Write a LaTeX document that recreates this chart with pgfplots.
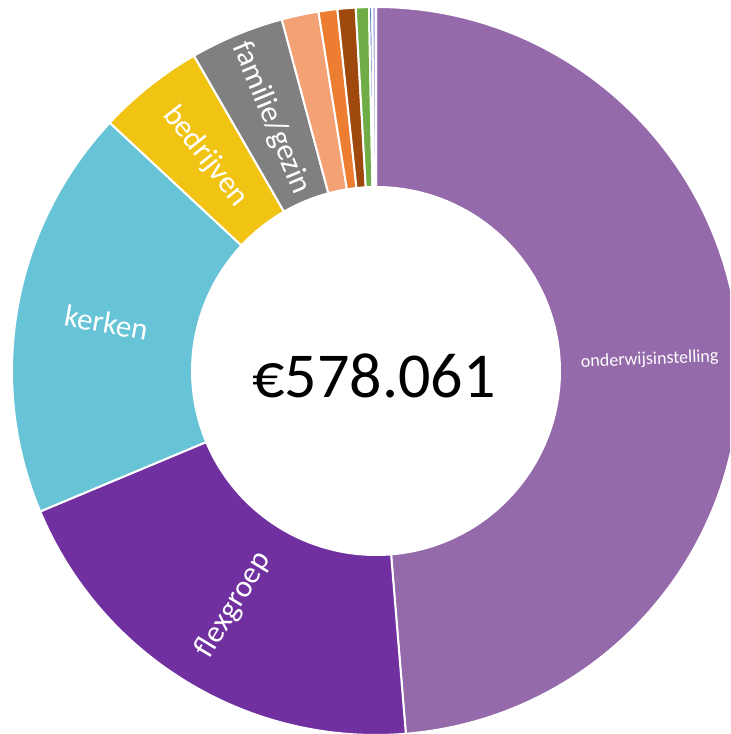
\documentclass[border=0pt]{standalone}
\usepackage{pgfplots}
\pgfplotsset{compat=1.18}
\usepackage{pgfplotstable}
\usetikzlibrary{calc}
\usepackage{fontspec}
\setmainfont{Carlito}

% amounts in thousands of euros, clockwise from 12 o'clock
\pgfplotstableread[col sep=comma]{
name,value,size
onderwijsinstelling,281.484,9
flexgroep,115.612,15.5
kerken,105.496,15.5
bedrijven,27.297,15.5
familie/gezin,24.086,15.5
x5,9.474,0
x6,4.817,0
x7,4.657,0
x8,3.372,0
x9,0.803,0
x10,0.963,0
}\data
\def\total{578.061}

\definecolor{c0}{HTML}{956AAB}
\definecolor{c1}{HTML}{7030A0}
\definecolor{c2}{HTML}{67C3D6}
\definecolor{c3}{HTML}{F1C414}
\definecolor{c4}{HTML}{808080}
\definecolor{c5}{HTML}{F4A175}
\definecolor{c6}{HTML}{ED7D31}
\definecolor{c7}{HTML}{9E480E}
\definecolor{c8}{HTML}{70AD47}
\definecolor{c9}{HTML}{4472C4}
\definecolor{c10}{HTML}{B4B4E6}

\begin{document}
\begin{tikzpicture}
\begin{axis}[
    scale only axis,
    width=365pt, height=367pt,
    xmin=-376, xmax=354,
    ymin=-363, ymax=371,
    hide axis,
    clip=true,
]
\coordinate (sw) at (rel axis cs:0,0);
\coordinate (ne) at (rel axis cs:1,1);
\pgfplotsextra{
  \gdef\cum{0}
  \foreach \i in {0,...,10}{
    \pgfplotstablegetelem{\i}{value}\of\data
    \pgfmathsetmacro\a{90-\cum/\total*360}
    \pgfmathsetmacro\newcum{\cum+\pgfplotsretval}
    \xdef\cum{\newcum}
    \pgfmathsetmacro\b{90-\cum/\total*360}
    \fill[c\i, draw=white, line width=1pt]
      (axis cs:0,0) ++(\a:182pt) arc[start angle=\a, end angle=\b, radius=182pt]
      -- ++({\b+180}:90pt) arc[start angle=\b, end angle=\a, radius=92pt] -- cycle;
    \ifnum\i<5
      \pgfplotstablegetelem{\i}{name}\of\data
      \let\lab\pgfplotsretval
      \pgfplotstablegetelem{\i}{size}\of\data
      \let\sz\pgfplotsretval
      \pgfmathsetmacro\m{(\a+\b)/2}
      \pgfmathsetmacro\rot{ifthenelse(cos(\m)<0,\m-180,\m)}
      \node[text=white, rotate=\rot, inner sep=0pt,
            font=\fontsize{\sz}{\sz}\selectfont]
        at ($(axis cs:0,0)+(\m:137pt)$) {\lab};
    \fi
  }
}
\node[font=\fontsize{32}{32}\selectfont, inner sep=0pt] at (axis cs:-2,-5) {€578.061};
\end{axis}
\pgfresetboundingbox
\path[use as bounding box] (sw) rectangle (ne);
\end{tikzpicture}
\end{document}
